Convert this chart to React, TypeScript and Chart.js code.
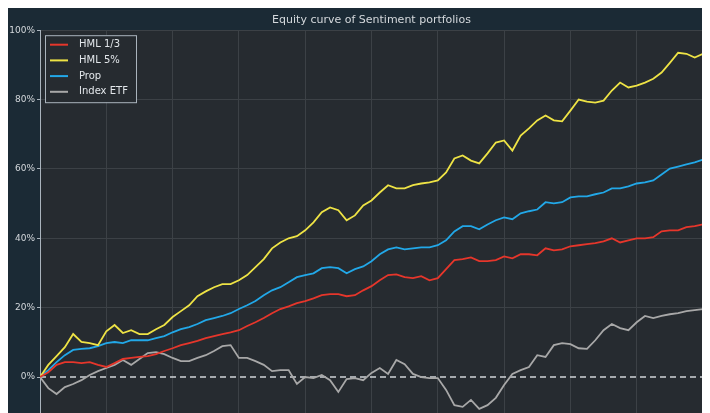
import React, { useEffect, useRef } from "react";
import { Chart, registerables } from "chart.js";

Chart.register(...registerables);

const TITLE = "Equity curve of Sentiment portfolios";
const seriesNames = ["HML 1/3", "HML 5%", "Prop", "Index ETF"];
const seriesColors = ["#e6362b", "#eee345", "#22a8e8", "#a8a8a8"];
const yTickValues = [-20, 0, 20, 40, 60, 80, 100];

// cumulative return (%) sampled every 1/8 of a period, 10 periods
const hml13 = [0, 1.4, 3.5, 4.3, 4.3, 4.0, 4.3, 3.5, 2.9, 4.0, 5.2, 5.5, 5.8, 6.0, 6.6, 7.5, 8.3, 9.2, 9.8, 10.4, 11.2, 11.8, 12.4, 12.9, 13.5, 14.7, 15.8, 17.0, 18.4, 19.6, 20.4, 21.3, 21.9, 22.7, 23.6, 23.9, 23.9, 23.3, 23.6, 25.0, 26.2, 27.9, 29.4, 29.6, 28.8, 28.5, 29.1, 27.9, 28.5, 31.1, 33.7, 34.0, 34.5, 33.4, 33.4, 33.7, 34.8, 34.2, 35.4, 35.4, 35.1, 37.1, 36.5, 36.8, 37.7, 38.0, 38.3, 38.6, 39.1, 40.0, 38.8, 39.4, 40.0, 40.0, 40.3, 42.0, 42.3, 42.3, 43.2, 43.5, 44.0];
const hml5 = [0, 3.5, 6.0, 8.6, 12.4, 10.1, 9.8, 9.2, 13.2, 15.0, 12.7, 13.5, 12.4, 12.4, 13.8, 15.0, 17.3, 19.0, 20.7, 23.3, 24.7, 25.9, 26.8, 26.8, 27.9, 29.4, 31.7, 34.0, 37.1, 38.8, 40.0, 40.6, 42.3, 44.6, 47.5, 48.9, 48.1, 45.2, 46.6, 49.5, 50.9, 53.2, 55.3, 54.4, 54.4, 55.3, 55.8, 56.1, 56.7, 59.0, 63.0, 63.9, 62.4, 61.6, 64.5, 67.6, 68.2, 65.3, 69.6, 71.7, 74.0, 75.4, 74.0, 73.7, 76.8, 80.0, 79.4, 79.1, 79.7, 82.6, 84.9, 83.5, 84.0, 84.9, 86.0, 87.8, 90.6, 93.5, 93.2, 92.1, 93.2];
const prop = [0, 2.0, 4.3, 6.3, 7.8, 8.1, 8.3, 8.9, 9.8, 10.1, 9.8, 10.6, 10.6, 10.6, 11.2, 11.8, 12.9, 13.8, 14.4, 15.3, 16.4, 17.0, 17.6, 18.4, 19.6, 20.7, 21.9, 23.6, 25.0, 25.9, 27.3, 28.8, 29.4, 29.9, 31.4, 31.7, 31.4, 29.9, 31.1, 31.9, 33.4, 35.4, 36.8, 37.4, 36.8, 37.1, 37.4, 37.4, 38.0, 39.4, 42.0, 43.5, 43.5, 42.6, 44.0, 45.2, 46.0, 45.5, 47.2, 47.8, 48.3, 50.4, 50.1, 50.4, 51.8, 52.1, 52.1, 52.7, 53.2, 54.4, 54.4, 55.0, 55.8, 56.1, 56.7, 58.4, 60.1, 60.7, 61.3, 61.9, 62.7];
const indexEtf = [0, -3.2, -4.9, -2.9, -2.0, -0.9, 0.6, 1.7, 2.6, 3.5, 4.9, 3.5, 5.2, 6.9, 7.2, 6.6, 5.5, 4.6, 4.6, 5.5, 6.3, 7.5, 8.9, 9.2, 5.5, 5.5, 4.6, 3.5, 1.7, 2.0, 2.0, -2.0, 0, -0.3, 0.6, -0.9, -4.3, -0.6, -0.3, -0.9, 1.2, 2.6, 0.9, 4.9, 3.7, 0.9, 0, -0.3, -0.3, -3.7, -8.1, -8.6, -6.6, -9.2, -8.1, -6.0, -2.3, 0.9, 2.0, 2.9, 6.3, 5.8, 9.2, 9.8, 9.5, 8.3, 8.1, 10.6, 13.5, 15.3, 14.1, 13.5, 15.8, 17.6, 17.0, 17.6, 18.1, 18.4, 19.0, 19.3, 19.6];

const allSeries = [hml13, hml5, prop, indexEtf];
const periods = hml13.map((_, i) => i / 8);

const FIG_BG = "#1b2a35";
const PLOT_BG = "#262b30";
const GRID = "#3c4146";
const TEXT = "#d4d8dc";
const FONT = "'DejaVu Sans', sans-serif";

const decorPlugin = {
  id: "decor",
  beforeDraw(chart: any) {
    const { ctx, chartArea: a, width, height } = chart;
    ctx.save();
    ctx.fillStyle = FIG_BG;
    ctx.fillRect(0, 0, width, height);
    ctx.fillStyle = PLOT_BG;
    ctx.fillRect(a.left, a.top, a.right - a.left, a.bottom - a.top);
    ctx.restore();
  },
  beforeDatasetsDraw(chart: any) {
    const { ctx, chartArea: a } = chart;
    const y = chart.scales.y.getPixelForValue(0);
    ctx.save();
    ctx.strokeStyle = "#cfd3d6";
    ctx.lineWidth = 1.5;
    ctx.setLineDash([6, 4]);
    ctx.beginPath();
    ctx.moveTo(a.left, y);
    ctx.lineTo(a.right, y);
    ctx.stroke();
    ctx.restore();
  },
  afterDatasetsDraw(chart: any) {
    const { ctx, chartArea: a } = chart;
    const bx = a.left + 5;
    const by = a.top + 5;
    const bw = 91;
    const bh = 67;
    ctx.save();
    ctx.fillStyle = PLOT_BG;
    ctx.fillRect(bx, by, bw, bh);
    ctx.strokeStyle = "#aab4bd";
    ctx.lineWidth = 1;
    ctx.strokeRect(bx + 0.5, by + 0.5, bw, bh);
    ctx.font = `10px ${FONT}`;
    ctx.textBaseline = "middle";
    ctx.textAlign = "left";
    seriesNames.forEach((name, i) => {
      const y = by + 9.5 + i * 15.7;
      ctx.strokeStyle = seriesColors[i];
      ctx.lineWidth = 2;
      ctx.beginPath();
      ctx.moveTo(bx + 5, y);
      ctx.lineTo(bx + 23, y);
      ctx.stroke();
      ctx.fillStyle = "#e2e6ea";
      ctx.fillText(name, bx + 34, y);
    });
    ctx.restore();
  },
};

export default function App() {
  const canvasRef = useRef<HTMLCanvasElement | null>(null);

  useEffect(() => {
    if (!canvasRef.current) return;
    Chart.defaults.font.family = FONT;
    const chart = new Chart(canvasRef.current, {
      type: "line",
      data: {
        datasets: allSeries.map((s, i) => ({
          label: seriesNames[i],
          data: s.map((v, k) => ({ x: periods[k], y: v })),
          borderColor: seriesColors[i],
          borderWidth: 1.8,
          pointRadius: 0,
          tension: 0,
          fill: false,
        })),
      },
      options: {
        responsive: false,
        animation: false,
        devicePixelRatio: 1,
        layout: { padding: { left: 0, right: 25, top: 0, bottom: 0 } },
        plugins: {
          legend: { display: false },
          tooltip: { enabled: false },
          title: {
            display: true,
            text: TITLE,
            fullSize: false,
            color: TEXT,
            font: { size: 11, weight: "normal", family: FONT, lineHeight: 1.2 },
            padding: { top: 6, bottom: 3 },
          },
        },
        scales: {
          x: {
            type: "linear",
            min: 0,
            max: 10,
            ticks: { display: false, stepSize: 1 },
            grid: { color: GRID, drawTicks: false },
            border: { display: false },
            afterFit: (scale: any) => {
              scale.height = 41.6;
            },
          },
          y: {
            min: -20,
            max: 100,
            afterBuildTicks: (scale: any) => {
              scale.ticks = yTickValues.map((v) => ({ value: v }));
            },
            ticks: {
              color: TEXT,
              font: { size: 9, family: FONT },
              padding: 2,
              callback: (v: any) => `${v}%`,
            },
            grid: {
              color: (ctx: any) => (ctx.tick && ctx.tick.value === 0 ? "rgba(0,0,0,0)" : GRID),
              tickColor: "#aab4bd",
              tickLength: 3,
            },
            border: { display: true, color: "#aab4bd", width: 1 },
            afterFit: (scale: any) => {
              scale.width = 32;
            },
          },
        },
      },
      plugins: [decorPlugin],
    });
    return () => chart.destroy();
  }, []);

  return (
    <div style={{ width: 702, height: 405, overflow: "hidden", position: "relative" }}>
      <canvas ref={canvasRef} width={720} height={480} style={{ width: 720, height: 480, display: "block" }} />
    </div>
  );
}
